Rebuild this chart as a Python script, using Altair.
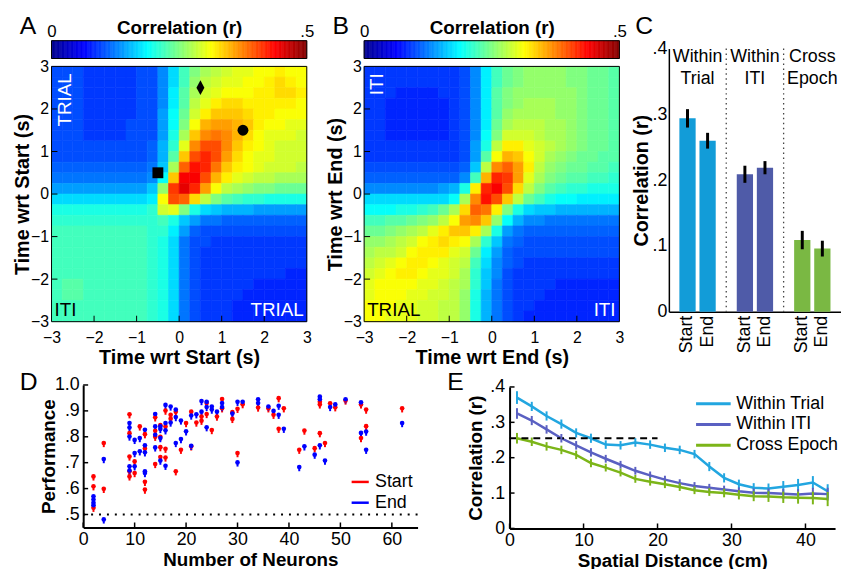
import altair as alt
import pandas as pd

FONT = "Liberation Sans"

# ---------------- Panels A & B : correlation maps ----------------
TIME_CENTERS = [-2.875, -2.625, -2.375, -2.125, -1.875, -1.625, -1.375, -1.125,
                -0.875, -0.625, -0.375, -0.125, 0.125, 0.375, 0.625, 0.875,
                1.125, 1.375, 1.625, 1.875, 2.125, 2.375, 2.625, 2.875]
CELL_HALF = 0.125
HM_TICKS = [-3, -2, -1, 0, 1, 2, 3]

# rows from top (t = +2.875) to bottom (t = -2.875), values in hundredths of r
A_ROWS = [
    [10,10,10,9,9,9,9,9,10,10,13,17,22,25,27,28,29,30,30,31,31,32,31,31],
    [10,10,10,9,9,9,9,9,10,10,13,17,22,26,28,29,30,30,31,31,32,33,32,31],
    [10,10,10,9,9,9,9,9,10,10,13,18,23,27,29,30,31,31,31,32,32,33,33,32],
    [10,10,10,9,9,9,9,9,10,10,13,18,23,28,30,32,33,33,32,32,32,32,32,31],
    [10,10,10,9,9,9,9,9,10,10,14,19,24,29,32,34,34,34,33,32,32,31,31,31],
    [10,10,10,9,9,9,9,10,10,10,14,19,25,31,35,36,36,35,34,32,31,31,30,30],
    [10,10,10,9,9,9,9,10,10,10,14,20,27,34,37,38,37,35,33,31,30,30,30,29],
    [10,10,10,10,10,10,10,10,10,11,15,21,30,37,40,40,37,34,32,31,30,29,29,29],
    [10,10,10,10,10,10,10,10,10,11,15,23,34,40,42,40,36,33,31,30,30,29,29,29],
    [11,11,11,11,11,11,11,11,11,12,16,27,39,43,42,38,34,32,31,30,29,29,29,28],
    [12,12,12,12,12,12,12,12,12,13,19,34,44,44,40,35,32,30,29,28,28,27,27,27],
    [14,14,14,14,14,14,14,14,14,16,26,41,45,42,36,31,28,27,26,25,25,24,24,24],
    [17,17,17,17,17,17,17,17,17,18,31,40,39,33,28,25,23,22,21,21,20,20,20,20],
    [20,20,20,20,20,20,20,20,20,21,29,30,25,20,17,16,15,15,15,14,14,14,14,14],
    [21,21,21,21,21,21,21,21,21,21,22,20,16,14,12,12,11,11,11,11,11,11,11,11],
    [22,22,22,22,22,22,22,22,22,21,21,18,14,11,10,10,10,10,10,10,10,10,10,10],
    [22,22,22,22,22,22,22,22,22,21,20,17,12,10,10,9,9,9,9,9,9,9,9,9],
    [22,22,22,22,22,22,22,22,22,21,20,17,12,10,9,9,9,9,9,9,9,9,9,9],
    [22,22,22,22,22,22,22,22,22,21,20,17,12,10,9,9,9,9,9,9,9,9,9,9],
    [22,22,22,22,22,22,22,22,22,21,20,17,12,10,9,9,9,9,9,9,9,9,8,8],
    [22,23,23,22,22,22,22,22,22,21,20,17,12,10,9,9,9,9,9,8,8,8,8,8],
    [22,23,23,22,22,22,22,22,22,21,20,17,12,10,9,9,9,9,8,8,8,8,8,8],
    [22,22,22,22,22,22,22,22,22,21,20,17,12,10,9,9,9,8,8,8,8,8,8,8],
    [22,22,22,22,22,22,22,22,22,21,20,17,12,10,9,9,9,8,8,8,8,8,8,8],
]

B_ROWS = [
    [9,9,9,9,9,9,9,9,9,10,13,18,22,24,25,26,26,26,26,25,25,24,24,23],
    [9,9,9,9,9,9,9,9,9,10,13,18,22,24,25,26,26,26,26,25,25,24,24,23],
    [9,9,9,8,8,8,8,9,9,10,13,18,23,25,26,26,26,26,26,26,25,24,24,23],
    [9,9,8,8,8,8,8,8,9,10,13,18,23,25,26,27,27,27,26,26,25,24,24,23],
    [9,9,8,8,8,8,8,8,9,10,13,18,23,26,27,27,27,27,26,26,25,24,24,23],
    [9,9,8,8,8,8,8,8,9,10,13,18,24,27,28,28,28,27,27,26,25,24,24,23],
    [9,9,8,8,8,8,8,8,9,10,13,19,25,29,29,29,28,27,27,26,25,24,24,23],
    [9,9,9,9,9,9,9,9,9,10,14,20,28,32,32,30,29,28,27,26,25,24,24,23],
    [9,9,9,9,9,9,9,9,9,10,14,23,31,35,34,31,29,27,26,25,24,24,23,23],
    [10,10,10,10,10,10,10,10,10,11,16,28,37,39,36,32,28,26,25,24,24,23,23,22],
    [11,11,11,11,11,11,11,11,11,13,22,35,42,41,36,30,27,25,24,23,23,22,22,21],
    [13,13,13,13,13,13,13,14,15,20,32,42,44,40,33,28,25,23,22,21,21,20,20,20],
    [17,17,17,17,17,17,17,17,19,27,37,43,40,34,28,24,22,20,19,19,18,18,18,18],
    [19,19,19,20,20,21,22,24,27,33,39,38,32,25,20,17,16,16,15,15,15,15,15,15],
    [22,22,23,23,24,25,26,28,31,36,37,34,26,19,15,13,13,12,12,12,12,12,12,12],
    [24,24,25,26,27,28,30,32,34,34,32,27,20,14,12,11,11,11,11,11,11,11,11,11],
    [26,26,27,28,29,31,32,33,32,31,27,21,16,12,11,10,10,10,10,10,10,10,10,10],
    [27,28,28,29,31,32,32,32,30,29,24,18,14,11,10,10,10,10,10,10,10,10,10,10],
    [28,29,30,31,32,32,31,30,29,28,22,17,13,11,10,9,9,9,9,9,9,9,9,9],
    [29,30,31,32,32,31,30,30,29,27,21,16,13,10,9,9,9,9,9,9,9,9,9,9],
    [30,31,31,31,31,30,30,29,28,27,21,16,12,10,9,9,9,9,8,8,8,8,8,8],
    [30,31,31,31,30,30,29,29,28,26,20,15,12,10,9,9,9,8,8,8,8,8,8,8],
    [31,31,31,30,30,29,29,28,28,26,20,15,12,10,9,9,8,8,8,8,8,8,8,8],
    [31,31,30,30,30,29,29,28,28,26,20,15,12,10,9,8,8,8,8,8,8,8,8,8],
]

A_MARK_X = [-0.5, 0.5, 1.5]
A_MARK_Y = [0.5, 2.5, 1.5]
A_MARK_KIND = ["square", "diamond", "circle"]

A_NOTE_TEXT = ["TRIAL", "ITI", "TRIAL"]
A_NOTE_X = [-2.535, -2.93, 2.93]
A_NOTE_Y = [2.837, -2.86, -2.86]
B_NOTE_TEXT = ["ITI", "TRIAL", "ITI"]
B_NOTE_X = [-2.56, -2.93, 2.91]
B_NOTE_Y = [2.837, -2.86, -2.86]

JET_STOPS = [0, 0.0625, 0.1875, 0.3125, 0.4375, 0.5]
JET_COLORS = ["#00008F", "#0000FF", "#00FFFF", "#FFFF00", "#FF0000", "#800000"]
CB_STEP = 0.0025
CB_TICKS = [0, 0.5]

# ---------------- Panel C ----------------
C_GROUPS = ["Within Trial", "Within ITI", "Cross Epoch"]
C_HEADERS = ["Within\nTrial", "Within\nITI", "Cross\nEpoch"]
C_COLORS = ["#129CD8", "#4F5BA8", "#7AB843"]
C_ALIGN = ["Start", "End"]
C_MEAN = [0.294, 0.260, 0.209, 0.219, 0.109, 0.096]
C_SEM = [0.014, 0.012, 0.013, 0.010, 0.014, 0.012]
C_TICKS = [0, 0.1, 0.2, 0.3, 0.4]

# ---------------- Panel D ----------------
D_START_N = [2,2,2, 4,4, 9,9,9,9,9, 10,10, 11, 12,12,12,12, 14,14,14,14, 15,15,15,15,
             16,16,16,16, 17,17, 18,18, 19, 20, 21,21, 22, 23,23, 24,24, 25, 26, 27,27,
             29,29, 30,30, 31, 34, 36, 37, 38,38, 39, 42, 43, 45, 46,46,46, 47, 48, 49, 51,
             54,54, 55,55, 62]
D_START_PERF = [0.647,0.609,0.526, 0.776,0.599, 0.887,0.814,0.724,0.667,0.647, 0.705,0.660,
                0.840, 0.810,0.755,0.626,0.596, 0.875,0.823,0.800,0.695, 0.845,0.800,0.760,0.722,
                0.901,0.840,0.754,0.720, 0.885,0.870, 0.897,0.667, 0.750, 0.853, 0.897,0.763,
                0.855, 0.878,0.862, 0.930,0.888, 0.826, 0.878, 0.946,0.910, 0.895,0.869,
                0.908,0.737, 0.926, 0.913, 0.910, 0.885, 0.949,0.831, 0.910, 0.750, 0.824,
                0.756, 0.935,0.925,0.814, 0.776, 0.929, 0.914, 0.940, 0.925,0.795,
                0.905,0.841, 0.910]
D_END_N = [2,2,2,2, 4,4, 9,9,9,9,9, 10,10,10, 11,11, 12,12,12,12,12, 14,14,14,14,
           15,15,15,15, 16,16,16,16, 17,17, 18,18,18, 19,19, 20, 21,21, 22, 23,23,
           24,24,24, 25,25, 26, 27,27, 29, 30,30, 31, 34,34, 36, 37, 38,38, 39, 42, 43,
           45, 46,46,46, 47, 48, 49, 51, 54,54, 55,55, 62]
D_END_PERF = [0.570,0.558,0.545,0.536, 0.714,0.481, 0.853,0.836,0.801,0.686,0.670,
              0.788,0.737,0.686, 0.795,0.744, 0.827,0.767,0.740,0.667,0.660,
              0.888,0.840,0.808,0.759, 0.840,0.830,0.795,0.708, 0.923,0.853,0.825,0.688,
              0.917,0.855, 0.905,0.876,0.776, 0.863,0.791, 0.821, 0.882,0.765, 0.887,
              0.938,0.897, 0.935,0.915,0.837, 0.917,0.905, 0.897, 0.930,0.915, 0.890,
              0.935,0.701, 0.935, 0.945,0.930, 0.917, 0.900, 0.920,0.885, 0.831, 0.683,
              0.763, 0.731, 0.955,0.945,0.767, 0.708, 0.915, 0.925, 0.945, 0.933,0.815,
              0.820,0.750, 0.853]
D_SERIES = ["Start", "End"]
D_COLORS = ["#FF0000", "#0000FF"]
D_XTICKS = [0, 10, 20, 30, 40, 50, 60]
D_YTICKS = [0.5, 0.6, 0.7, 0.8, 0.9, 1.0]
D_CHANCE = 0.5

# ---------------- Panel E ----------------
E_DIST = [1,3,5,7,9,11,13,15,17,19,21,23,25,27,29,31,33,35,37,39,41,43]
E_TRIAL = [0.370,0.345,0.318,0.295,0.270,0.255,0.237,0.235,0.243,0.237,0.228,0.222,
           0.210,0.175,0.143,0.125,0.115,0.113,0.118,0.123,0.130,0.105]
E_TRIAL_SEM = [0.018,0.013,0.013,0.013,0.013,0.013,0.012,0.012,0.012,0.012,0.012,0.012,
               0.012,0.013,0.013,0.013,0.013,0.014,0.016,0.017,0.018,0.020]
E_ITI = [0.325,0.305,0.280,0.255,0.235,0.215,0.197,0.180,0.163,0.150,0.138,0.128,
         0.120,0.115,0.110,0.105,0.101,0.100,0.098,0.096,0.099,0.097]
E_ITI_SEM = [0.015,0.013,0.012,0.012,0.012,0.012,0.011,0.011,0.011,0.011,0.011,0.011,
             0.011,0.011,0.011,0.011,0.012,0.013,0.014,0.015,0.016,0.018]
E_CROSS = [0.255,0.245,0.232,0.222,0.208,0.185,0.172,0.158,0.140,0.132,0.125,0.117,
           0.108,0.103,0.100,0.095,0.091,0.090,0.088,0.087,0.086,0.083]
E_CROSS_SEM = [0.015,0.012,0.012,0.012,0.012,0.012,0.011,0.011,0.011,0.011,0.011,0.011,
               0.011,0.011,0.012,0.013,0.014,0.015,0.016,0.017,0.018,0.020]
E_SERIES = ["Within Trial", "Within ITI", "Cross Epoch"]
E_COLORS = ["#22A6E0", "#5A60C2", "#7CB518"]
E_DASH_X = [0, 20]
E_DASH_Y = 0.255
E_XTICKS = [0, 10, 20, 30, 40]
E_YTICKS = [0, 0.1, 0.2, 0.3, 0.4]

# ---------------- layout (pixels inside one shared view) ----------------
VW, VH = 798, 493
CB_H = 18
A_X = [0, 258]
B_X = [316, 574]
HM_Y = [284, 26]          # bottom, top
C_X = [624, 798]
C_Y = [274, 8]
D_X = [32, 370]
D_Y = [492, 348]
E_X = [463, 792]
E_Y = [493, 350]

DEC_EXPR = ("datum.value == 0 ? '0' : (datum.value == 1 ? '1.0' : "
            "replace(format(datum.value, '.1f'), '0.', '.'))")
LEGEND_LINE = "M-2.5,0L2.5,0"


def jet_scale():
    return alt.Scale(domain=JET_STOPS, range=JET_COLORS, interpolate="rgb", clamp=True)


def letter(ch, x, y):
    return alt.Chart(pd.DataFrame({"t": [ch]})).mark_text(
        fontSize=25, font=FONT, align="left", baseline="alphabetic", color="black"
    ).encode(text="t:N", x=alt.value(x), y=alt.value(y))


def colorbar(ch, xr):
    sc = alt.Scale(domain=[0, 0.5], range=xr, nice=False, zero=False)
    rect = alt.Chart(alt.sequence(0, 0.5, CB_STEP, as_="v")).transform_calculate(
        v2=f"datum.v + {CB_STEP}"
    ).mark_rect(strokeWidth=0.6).encode(
        x=alt.X("v:Q", scale=sc,
                axis=alt.Axis(orient="top", offset=0, values=CB_TICKS,
                              labelExpr="datum.value == 0 ? '0' : '.5'",
                              ticks=False, domain=False, grid=False, labelFlush=False,
                              labelFontSize=17, labelPadding=4, labelBaseline="alphabetic",
                              title="Correlation (r)", titleFontSize=19, titleFontWeight="bold",
                              titleX=(xr[0] + xr[1]) / 2, titleY=-7, titleBaseline="alphabetic",
                              titleAlign="center", titleAngle=0)),
        x2="v2:Q",
        y=alt.value(0), y2=alt.value(CB_H),
        color=alt.Color("v:Q", scale=jet_scale(), legend=None),
        stroke=alt.Stroke("v:Q", scale=jet_scale(), legend=None),
    )
    frame = alt.Chart(pd.DataFrame({"a": [0]})).mark_rect(
        fillOpacity=0, stroke="black", strokeWidth=1
    ).encode(x=alt.datum(CB_TICKS[0]), x2=alt.datum(CB_TICKS[1]),
             y=alt.value(0), y2=alt.value(CB_H))
    return alt.layer(rect, frame, letter(ch, xr[0] - 32, -7))


def heat_df(rows):
    recs = []
    n = len(TIME_CENTERS)
    for j, row in enumerate(rows):
        yc = TIME_CENTERS[n - 1 - j]
        for i, v in enumerate(row):
            xc = TIME_CENTERS[i]
            recs.append({"x0": xc - CELL_HALF, "x1": xc + CELL_HALF,
                         "y0": yc - CELL_HALF, "y1": yc + CELL_HALF, "r": v / 100.0})
    return pd.DataFrame(recs)


def heatmap(rows, xr, xtitle, ytitle, notes, markers=None):
    xs = alt.Scale(domain=[-3, 3], range=xr, nice=False, zero=False)
    ys = alt.Scale(domain=[-3, 3], range=HM_Y, nice=False, zero=False)
    ax = dict(values=HM_TICKS, format="d", ticks=False, domain=False, grid=False,
              labelFlush=False, labelOverlap=False, labelFontSize=16,
              titleFontSize=20, titleFontWeight="bold")
    rects = alt.Chart(heat_df(rows)).mark_rect(strokeWidth=0.6).encode(
        x=alt.X("x0:Q", scale=xs, axis=alt.Axis(title=xtitle, orient="bottom",
                                                offset=HM_Y[0] - VH, labelPadding=8,
                                                titlePadding=2, **ax)),
        x2="x1:Q",
        y=alt.Y("y0:Q", scale=ys, axis=alt.Axis(title=ytitle, orient="left", offset=-xr[0],
                                                labelPadding=3, titlePadding=-2, **ax)),
        y2="y1:Q",
        color=alt.Color("r:Q", scale=jet_scale(), legend=None),
        stroke=alt.Stroke("r:Q", scale=jet_scale(), legend=None),
    )
    tick_df = pd.DataFrame({"t": HM_TICKS[1:-1]})
    xt = alt.Chart(tick_df).mark_rule(color="black", strokeWidth=1).encode(
        x="t:Q", y=alt.value(HM_Y[0]), y2=alt.value(HM_Y[0] - 6))
    yt = alt.Chart(tick_df).mark_rule(color="black", strokeWidth=1).encode(
        y="t:Q", x=alt.value(xr[0]), x2=alt.value(xr[0] + 6))
    frame = alt.Chart(pd.DataFrame({"a": [0]})).mark_rect(
        fillOpacity=0, stroke="black", strokeWidth=1
    ).encode(x=alt.datum(HM_TICKS[0]), x2=alt.datum(HM_TICKS[-1]),
             y=alt.datum(HM_TICKS[0]), y2=alt.datum(HM_TICKS[-1]))
    layers = [rects, xt, yt, frame]
    for (t, x, y, col, al, ang) in notes:
        layers.append(alt.Chart(pd.DataFrame({"x": [x], "y": [y], "t": [t]})).mark_text(
            color=col, align=al, baseline="alphabetic", angle=ang, fontSize=19, font=FONT
        ).encode(x="x:Q", y="y:Q", text="t:N"))
    if markers is not None:
        mdf = pd.DataFrame({"x": markers[0], "y": markers[1], "k": markers[2]})
        layers.append(alt.Chart(mdf).mark_point(filled=True, color="black", size=121, opacity=1).encode(
            x="x:Q", y="y:Q",
            shape=alt.Shape("k:N", scale=alt.Scale(
                domain=["square", "diamond", "circle"],
                range=["square", "M0,-1.36L0.73,0L0,1.36L-0.73,0Z", "circle"]), legend=None)))
    return alt.layer(*layers)


a_notes = [(A_NOTE_TEXT[0], A_NOTE_X[0], A_NOTE_Y[0], "white", "right", 270),
           (A_NOTE_TEXT[1], A_NOTE_X[1], A_NOTE_Y[1], "black", "left", 0),
           (A_NOTE_TEXT[2], A_NOTE_X[2], A_NOTE_Y[2], "white", "right", 0)]
b_notes = [(B_NOTE_TEXT[0], B_NOTE_X[0], B_NOTE_Y[0], "white", "right", 270),
           (B_NOTE_TEXT[1], B_NOTE_X[1], B_NOTE_Y[1], "black", "left", 0),
           (B_NOTE_TEXT[2], B_NOTE_X[2], B_NOTE_Y[2], "white", "right", 0)]

cbA = colorbar("A", A_X)
cbB = colorbar("B", B_X)
hmA = heatmap(A_ROWS, A_X, "Time wrt Start (s)", "Time wrt Start (s)", a_notes,
              (A_MARK_X, A_MARK_Y, A_MARK_KIND))
hmB = heatmap(B_ROWS, B_X, "Time wrt End (s)", "Time wrt End (s)", b_notes)

# ---------------- Panel C ----------------
c_df = pd.DataFrame({
    "group": [g for g in C_GROUPS for _ in C_ALIGN],
    "align": C_ALIGN * len(C_GROUPS),
    "mean": C_MEAN,
    "sem": C_SEM,
})
c_head = pd.DataFrame({"group": C_GROUPS, "h": C_HEADERS})
c_sep = pd.DataFrame({"group": C_GROUPS[:-1]})
cx_scale = alt.Scale(domain=C_GROUPS, range=C_X, paddingInner=0, paddingOuter=0)
cy_scale = alt.Scale(domain=[0, 0.4], range=C_Y, nice=False, zero=True)


def cxo():
    return alt.XOffset("align:N", sort=C_ALIGN,
                       scale=alt.Scale(domain=C_ALIGN, paddingInner=0.19, paddingOuter=0.524))


c_bars = alt.Chart(c_df).mark_bar().encode(
    x=alt.X("group:N", sort=C_GROUPS, scale=cx_scale,
            axis=alt.Axis(orient="bottom", offset=C_Y[0] - VH, labels=False, ticks=False,
                          title=None, domain=True, domainWidth=1.5, grid=False)),
    xOffset=cxo(),
    y=alt.Y("mean:Q", scale=cy_scale,
            axis=alt.Axis(orient="left", offset=-C_X[0], values=C_TICKS, labelExpr=DEC_EXPR,
                          ticks=False, domain=True, domainWidth=1.5, grid=False,
                          labelPadding=2, labelFontSize=18, labelFlush=False,
                          title="Correlation (r)", titleFontSize=20,
                          titleFontWeight="bold", titlePadding=1)),
    color=alt.Color("group:N", scale=alt.Scale(domain=C_GROUPS, range=C_COLORS), legend=None),
)
c_err = alt.Chart(c_df).transform_calculate(
    lo="datum.mean - datum.sem", hi="datum.mean + datum.sem"
).mark_rule(color="black", strokeWidth=3).encode(
    x=alt.X("group:N", sort=C_GROUPS), xOffset=cxo(),
    y="lo:Q", y2="hi:Q")
c_lab = alt.Chart(c_df).mark_text(angle=270, align="right", baseline="middle",
                                  fontSize=18, font=FONT).encode(
    x=alt.X("group:N", sort=C_GROUPS), xOffset=cxo(),
    y=alt.value(C_Y[0] + 4), text="align:N")
c_hdr = alt.Chart(c_head).mark_text(lineBreak="\n", baseline="top", fontSize=18,
                                    lineHeight=22, font=FONT).encode(
    x=alt.X("group:N", sort=C_GROUPS), y=alt.value(C_Y[1]), text="h:N")
c_sepl = alt.Chart(c_sep).mark_rule(color="#444444", strokeWidth=1.3,
                                    strokeDash=[1.5, 3.5]).encode(
    x=alt.X("group:N", sort=C_GROUPS, bandPosition=1),
    y=alt.value(C_Y[1]), y2=alt.value(C_Y[0]))
chartC = alt.layer(c_bars, c_sepl, c_err, c_lab, c_hdr, letter("C", C_X[0] - 34, -7))

# ---------------- Panel D ----------------
d_df = pd.concat([
    pd.DataFrame({"n": D_START_N, "perf": D_START_PERF, "series": D_SERIES[0]}),
    pd.DataFrame({"n": D_END_N, "perf": D_END_PERF, "series": D_SERIES[1]}),
], ignore_index=True)
dx_scale = alt.Scale(domain=[0, 65], range=D_X, nice=False, zero=True)
dy_scale = alt.Scale(domain=[0.45, 1.0], range=D_Y, nice=False, zero=False)
ax_common = dict(ticks=False, domain=True, domainWidth=2, grid=False, labelFlush=False,
                 labelOverlap=False, labelFontSize=18, titleFontSize=19, titleFontWeight="bold")
d_err = alt.Chart(d_df).transform_calculate(
    lo="datum.perf - 0.016", hi="datum.perf + 0.004"
).mark_rule(strokeWidth=2).encode(
    x=alt.X("n:Q", scale=dx_scale,
            axis=alt.Axis(orient="bottom", offset=D_Y[0] - VH, values=D_XTICKS,
                          title="Number of Neurons", labelPadding=3, titlePadding=2,
                          **ax_common)),
    y=alt.Y("lo:Q", scale=dy_scale,
            axis=alt.Axis(orient="left", offset=-D_X[0], values=D_YTICKS, labelExpr=DEC_EXPR,
                          title="Performance", labelPadding=4, titlePadding=-4, **ax_common)),
    y2="hi:Q",
    stroke=alt.Stroke("series:N", scale=alt.Scale(domain=D_SERIES, range=D_COLORS),
                      legend=alt.Legend(orient="none", legendX=302, legendY=436, title=None,
                                        symbolType="stroke", symbolSize=300,
                                        symbolStrokeWidth=2.5, labelFontSize=18,
                                        labelFont=FONT, rowPadding=2, labelOffset=5)),
)
d_pts = alt.Chart(d_df).mark_circle(size=22, opacity=1).encode(
    x="n:Q", y="perf:Q",
    color=alt.Color("series:N", scale=alt.Scale(domain=D_SERIES, range=D_COLORS), legend=None),
)
d_chance = alt.Chart(pd.DataFrame({"y": [D_CHANCE]})).mark_rule(
    color="black", strokeWidth=2, strokeDash=[2, 6]
).encode(y="y:Q", x=alt.value(D_X[0]), x2=alt.value(D_X[1]))
d_xt = alt.Chart(pd.DataFrame({"t": D_XTICKS})).mark_rule(color="black", strokeWidth=1.5).encode(
    x="t:Q", y=alt.value(D_Y[0]), y2=alt.value(D_Y[0] - 5))
d_yt = alt.Chart(pd.DataFrame({"t": D_YTICKS})).mark_rule(color="black", strokeWidth=1.5).encode(
    y="t:Q", x=alt.value(D_X[0]), x2=alt.value(D_X[0] + 5))
chartD = alt.layer(d_err, d_chance, d_pts, d_xt, d_yt, letter("D", D_X[0] - 64, D_Y[1] + 5))

# ---------------- Panel E ----------------
e_df = pd.concat([
    pd.DataFrame({"d": E_DIST, "r": E_TRIAL, "sem": E_TRIAL_SEM, "series": E_SERIES[0]}),
    pd.DataFrame({"d": E_DIST, "r": E_ITI, "sem": E_ITI_SEM, "series": E_SERIES[1]}),
    pd.DataFrame({"d": E_DIST, "r": E_CROSS, "sem": E_CROSS_SEM, "series": E_SERIES[2]}),
], ignore_index=True)
ex_scale = alt.Scale(domain=[0, 44], range=E_X, nice=False, zero=True)
ey_scale = alt.Scale(domain=[0, 0.4], range=E_Y, nice=False, zero=True)
e_color = alt.Scale(domain=E_SERIES, range=E_COLORS)
e_line = alt.Chart(e_df).mark_line(strokeWidth=2.5).encode(
    x=alt.X("d:Q", scale=ex_scale,
            axis=alt.Axis(orient="bottom", offset=E_Y[0] - VH, values=E_XTICKS,
                          title="Spatial Distance (cm)", labelPadding=3, titlePadding=2,
                          **ax_common)),
    y=alt.Y("r:Q", scale=ey_scale,
            axis=alt.Axis(orient="left", offset=-E_X[0], values=E_YTICKS, labelExpr=DEC_EXPR,
                          title="Correlation (r)", labelPadding=5, titlePadding=4,
                          **ax_common)),
    color=alt.Color("series:N", scale=e_color,
                    legend=alt.Legend(orient="none", legendX=660, legendY=358, title=None,
                                      symbolType=LEGEND_LINE, symbolSize=196,
                                      symbolStrokeWidth=3, labelFontSize=18, labelFont=FONT,
                                      rowPadding=3, labelOffset=14)),
    order="d:Q",
)
e_err = alt.Chart(e_df).transform_calculate(
    lo="datum.r - datum.sem", hi="datum.r + datum.sem"
).mark_rule(strokeWidth=2).encode(
    x="d:Q", y="lo:Q", y2="hi:Q",
    color=alt.Color("series:N", scale=e_color, legend=None),
)
e_dash = alt.Chart(pd.DataFrame({"x": [E_DASH_X[0]], "x2": [E_DASH_X[1]], "y": [E_DASH_Y]})).mark_rule(
    color="black", strokeWidth=2, strokeDash=[7, 5]
).encode(x="x:Q", x2="x2:Q", y="y:Q")
e_xt = alt.Chart(pd.DataFrame({"t": E_XTICKS})).mark_rule(color="black", strokeWidth=1.5).encode(
    x="t:Q", y=alt.value(E_Y[0]), y2=alt.value(E_Y[0] - 5))
e_yt = alt.Chart(pd.DataFrame({"t": E_YTICKS})).mark_rule(color="black", strokeWidth=1.5).encode(
    y="t:Q", x=alt.value(E_X[0]), x2=alt.value(E_X[0] + 5))
chartE = alt.layer(e_line, e_dash, e_err, e_xt, e_yt, letter("E", E_X[0] - 63, D_Y[1] + 5))

# ---------------- assemble into one view with independent scales ----------------
chart = alt.layer(cbA, hmA, cbB, hmB, chartC, chartD, chartE).resolve_scale(
    x="independent", y="independent", color="independent", stroke="independent",
    shape="independent", xOffset="independent"
).resolve_axis(x="independent", y="independent").resolve_legend(
    color="independent", stroke="independent", shape="independent"
).properties(
    width=VW, height=VH,
    padding={"left": 4, "top": 3, "right": 0, "bottom": 0}
).configure_view(stroke=None).configure_axis(
    labelFont=FONT, titleFont=FONT, labelColor="black", titleColor="black",
    domainColor="black", tickColor="black"
).configure_text(font=FONT).configure_legend(labelFont=FONT, labelColor="black")

chart.save("out.html", embed_options={"renderer": "svg", "actions": False})
